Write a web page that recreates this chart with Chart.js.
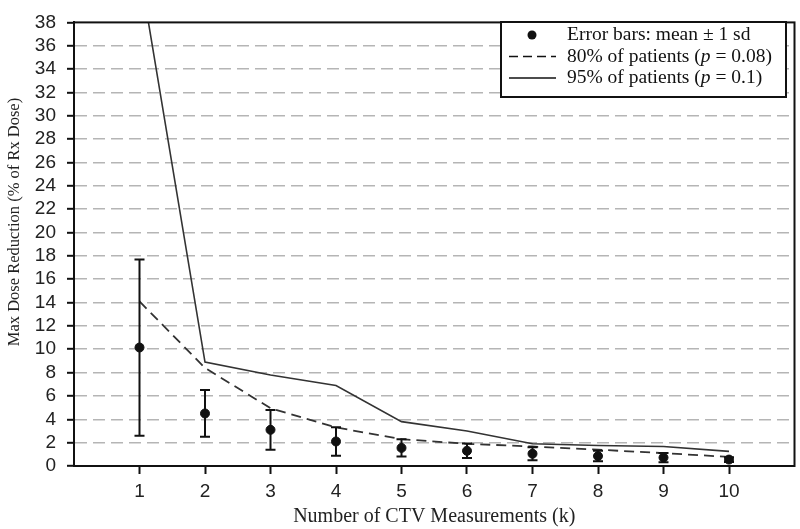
<!DOCTYPE html>
<html>
<head>
<meta charset="utf-8">
<script src="https://cdn.jsdelivr.net/npm/chart.js@4/dist/chart.umd.min.js"></script>
<style>
  html, body { margin: 0; padding: 0; background: #fff; }
  canvas { display: block; }
</style>
</head>
<body>
<canvas id="grafico" width="800" height="529"></canvas>
<script>
// datos
const kValues = [1, 2, 3, 4, 5, 6, 7, 8, 9, 10];
const meanValues = [10.15, 4.5, 3.1, 2.1, 1.55, 1.3, 1.05, 0.85, 0.72, 0.55];
const sdValues = [7.55, 2.0, 1.7, 1.22, 0.74, 0.62, 0.55, 0.45, 0.4, 0.2];
const p80Values = [14.1, 8.4, 4.95, 3.3, 2.3, 1.9, 1.67, 1.4, 1.1, 0.78];
const p95Values = [42.6, 8.9, 7.8, 6.9, 3.8, 3.0, 1.9, 1.75, 1.67, 1.25];
const yTicks = [0, 2, 4, 6, 8, 10, 12, 14, 16, 18, 20, 22, 24, 26, 28, 30, 32, 34, 36, 38];

const yTitle = 'Max Dose Reduction (% of Rx Dose)';
const legendItems = [
    { type: 'dot', parts: [['Error bars: mean ± 1 sd', false]] },
    { type: 'dash', parts: [['80% of patients (', false], ['p', true], [' = 0.08)', false]] },
    { type: 'solid', parts: [['95% of patients (', false], ['p', true], [' = 0.1)', false]] }
];

const toPoints = vals => kValues.map((k, i) => ({ x: k, y: vals[i] }));

const errorBars = {
    id: 'errorBars',
    afterDatasetsDraw(chart) {
        const { ctx, scales: { x, y } } = chart;
        ctx.save();
        ctx.strokeStyle = '#111';
        ctx.lineWidth = 2;
        kValues.forEach((k, i) => {
            const px = x.getPixelForValue(k);
            const top = y.getPixelForValue(meanValues[i] + sdValues[i]);
            const bot = y.getPixelForValue(meanValues[i] - sdValues[i]);
            ctx.beginPath();
            ctx.moveTo(px, top); ctx.lineTo(px, bot);
            ctx.moveTo(px - 5, top); ctx.lineTo(px + 5, top);
            ctx.moveTo(px - 5, bot); ctx.lineTo(px + 5, bot);
            ctx.stroke();
        });
        ctx.restore();
    }
};

const frameAndLegend = {
    id: 'frameAndLegend',
    afterDraw(chart) {
        const { ctx, chartArea: a } = chart;
        ctx.save();
        ctx.strokeStyle = '#111';
        ctx.lineWidth = 2;
        ctx.strokeRect(a.left, a.top, a.right - a.left, a.bottom - a.top);

        // titulo eje y
        ctx.save();
        ctx.translate(15, 222);
        ctx.rotate(-Math.PI / 2);
        ctx.fillStyle = '#222';
        ctx.font = '16.5px "Liberation Serif", serif';
        ctx.textAlign = 'center';
        ctx.textBaseline = 'middle';
        ctx.fillText(yTitle, 0, 0);
        ctx.restore();

        // leyenda
        const bx = 501, by = 22, bw = 285, bh = 75;
        ctx.fillStyle = '#fff';
        ctx.fillRect(bx, by, bw, bh);
        ctx.strokeRect(bx, by, bw, bh);
        ctx.textBaseline = 'middle';
        legendItems.forEach((item, i) => {
            const ry = by + 13 + i * 21.5;
            ctx.strokeStyle = '#111';
            ctx.fillStyle = '#111';
            if (item.type === 'dot') {
                ctx.beginPath();
                ctx.arc(532, ry, 4.5, 0, Math.PI * 2);
                ctx.fill();
            } else {
                ctx.lineWidth = 1.5;
                ctx.setLineDash(item.type === 'dash' ? [9, 5] : []);
                ctx.beginPath();
                ctx.moveTo(509, ry); ctx.lineTo(556, ry);
                ctx.stroke();
                ctx.setLineDash([]);
            }
            let tx = 567;
            item.parts.forEach(([txt, italic]) => {
                ctx.font = (italic ? 'italic ' : '') + '19.5px "Liberation Serif", serif';
                ctx.fillText(txt, tx, ry);
                tx += ctx.measureText(txt).width;
            });
        });
        ctx.restore();
    }
};

const ctx = document.getElementById('grafico').getContext('2d');

new Chart(ctx, {
    type: 'line',
    data: {
        datasets: [
            {
                label: 'Error bars: mean ± 1 sd',
                data: toPoints(meanValues),
                showLine: false,
                pointRadius: 4.5,
                pointBackgroundColor: '#111',
                pointBorderColor: '#111',
                order: 0
            },
            {
                label: '80% of patients (p = 0.08)',
                data: toPoints(p80Values),
                borderColor: '#333',
                borderWidth: 1.8,
                borderDash: [10, 6],
                pointRadius: 0,
                tension: 0,
                order: 1
            },
            {
                label: '95% of patients (p = 0.1)',
                data: toPoints(p95Values),
                borderColor: '#333',
                borderWidth: 1.6,
                pointRadius: 0,
                tension: 0,
                order: 2
            }
        ]
    },
    options: {
        responsive: false,
        animation: false,
        layout: { padding: { top: 10, right: 3, left: 0, bottom: 0 } },
        plugins: {
            legend: { display: false },
            tooltip: { enabled: false }
        },
        scales: {
            x: {
                type: 'linear',
                min: 0,
                max: 11,
                afterBuildTicks: scale => { scale.ticks = kValues.map(v => ({ value: v })); },
                afterFit: scale => { scale.height = 63; },
                grid: {
                    drawOnChartArea: false,
                    tickLength: 8,
                    tickColor: '#111',
                    tickWidth: 2
                },
                border: { color: '#111', width: 2 },
                ticks: {
                    padding: 6,
                    autoSkip: false,
                    color: '#222',
                    font: { family: '"Liberation Sans", Arial, sans-serif', size: 19 }
                },
                title: {
                    display: true,
                    text: 'Number of CTV Measurements (k)',
                    color: '#222',
                    padding: { top: 0, bottom: 0 },
                    font: { family: '"Liberation Serif", serif', size: 20 }
                }
            },
            y: {
                min: 0,
                max: 38,
                afterBuildTicks: scale => { scale.ticks = yTicks.map(v => ({ value: v })); },
                afterFit: scale => { scale.width = 74; },
                grid: {
                    color: c => (c.tick && (c.tick.value === 0 || c.tick.value === 38)) ? 'rgba(0,0,0,0)' : '#b5b5b5',
                    lineWidth: 1.6,
                    tickLength: 7,
                    tickColor: '#111',
                    tickWidth: 2
                },
                border: { color: '#111', width: 2, dash: [12, 6] },
                ticks: {
                    padding: 11,
                    autoSkip: false,
                    color: '#222',
                    font: { family: '"Liberation Sans", Arial, sans-serif', size: 19 }
                },
                title: { display: false }
            }
        }
    },
    plugins: [errorBars, frameAndLegend]
});
</script>
</body>
</html>
